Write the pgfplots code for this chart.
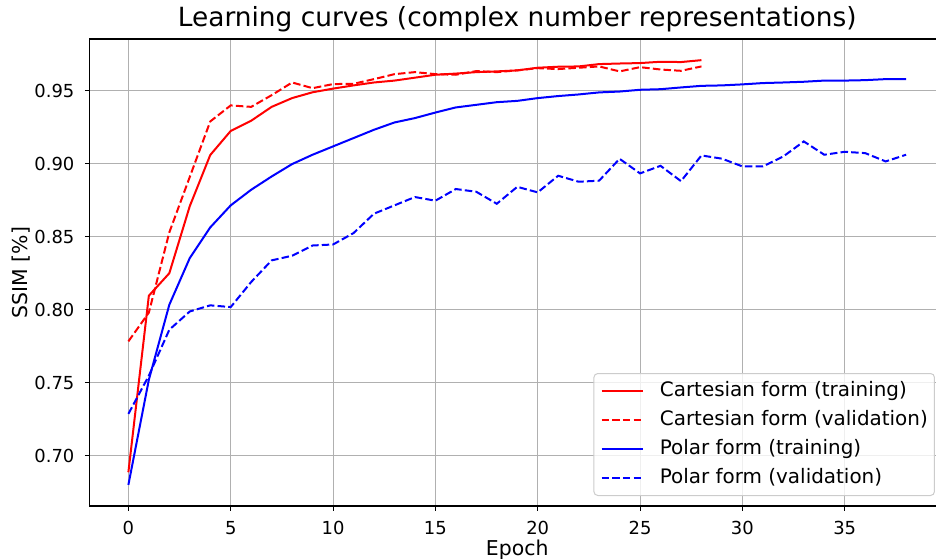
\documentclass[border=0pt]{standalone}
\usepackage{pgfplots}
\pgfplotsset{compat=1.18}
\usepackage{fontspec}
\setmainfont{DejaVu Sans}
\begin{document}
\begin{tikzpicture}
\path[use as bounding box] (-89.5bp,-53bp) rectangle (846.5bp,506bp);
\begin{axis}[
  at={(0,0)}, anchor=south west,
  scale only axis, width=855.5bp, height=467bp,
  xmin=-1.9, xmax=39.9, ymin=0.6655, ymax=0.9855,
  xtick={0,5,10,15,20,25,30,35},
  ytick={0.70,0.75,0.80,0.85,0.90,0.95},
  grid=major,
  major grid style={color=black!31, line width=1.1bp},
  axis line style={line width=1.1bp, black},
  tick style={line width=1.1bp, black},
  tick align=outside, major tick length=4.7bp, tick pos=left,
  /pgf/number format/assume math mode=true,
  ticklabel style={font=\fontsize{18}{18}\selectfont},
  xticklabel style={anchor=north, inner sep=0pt, yshift=-10.7bp},
  yticklabel style={anchor=east, inner sep=0pt, xshift=-10.2bp,
    /pgf/number format/fixed, /pgf/number format/fixed zerofill, /pgf/number format/precision=2},
  scaled y ticks=false,
  xlabel={Epoch}, ylabel={SSIM [\%]},
  label style={font=\fontsize{20.5}{24}\selectfont},
  xlabel style={at={(axis description cs:0.5,-0.1055)}, anchor=base},
  ylabel style={at={(axis description cs:-0.0719,0.5)}, anchor=base},
  title={Learning curves (complex number representations)},
  title style={at={(axis description cs:0.5,1.01435)}, anchor=base, font=\fontsize{26.5}{30}\selectfont},
  legend cell align=left,
  legend image code/.code={\draw[#1] (0bp,0bp) -- (41.6bp,0bp);},
  legend style={at={(axis description cs:0.9883,0.0214)}, anchor=south east,
    font=\fontsize{20}{24}\selectfont, fill=white, fill opacity=0.8, text opacity=1,
    draw=black!20, line width=1bp, rounded corners=4bp,
    inner xsep=6.7bp, inner ysep=8bp, row sep=10bp,
    nodes={inner sep=0pt, text height=15bp, text depth=4bp},
    /tikz/every odd column/.append style={column sep=15.7bp}},
  every axis plot/.append style={line width=2bp},
]
\addplot[red, solid] coordinates {
(0,0.6886) (1,0.8096) (2,0.825) (3,0.871) (4,0.906) (5,0.9225) (6,0.9295) (7,0.939)
(8,0.945) (9,0.949) (10,0.9515) (11,0.9537) (12,0.9557) (13,0.957) (14,0.959)
(15,0.961) (16,0.9618) (17,0.9628) (18,0.9633) (19,0.964) (20,0.9658) (21,0.9665)
(22,0.9667) (23,0.9683) (24,0.9687) (25,0.969) (26,0.9699) (27,0.9697) (28,0.971)};
\addlegendentry{Cartesian form (training)}
\addplot[red, dash pattern=on 7.5bp off 3.2bp] coordinates {
(0,0.7783) (1,0.798) (2,0.853) (3,0.891) (4,0.929) (5,0.940) (6,0.939) (7,0.947)
(8,0.9557) (9,0.9518) (10,0.9546) (11,0.9548) (12,0.958) (13,0.9614) (14,0.9628)
(15,0.9614) (16,0.961) (17,0.9635) (18,0.9628) (19,0.964) (20,0.9655) (21,0.9649)
(22,0.9658) (23,0.9667) (24,0.9633) (25,0.9662) (26,0.9646) (27,0.9637) (28,0.9667)};
\addlegendentry{Cartesian form (validation)}
\addplot[blue, solid] coordinates {
(0,0.680) (1,0.752) (2,0.8034) (3,0.8354) (4,0.8564) (5,0.8715) (6,0.8822) (7,0.8913)
(8,0.8998) (9,0.9062) (10,0.9119) (11,0.9176) (12,0.9233) (13,0.9283) (14,0.9313)
(15,0.9351) (16,0.9386) (17,0.9404) (18,0.9422) (19,0.9431) (20,0.945) (21,0.9464)
(22,0.9475) (23,0.9489) (24,0.9495) (25,0.9507) (26,0.9511) (27,0.9523) (28,0.9534)
(29,0.9537) (30,0.9544) (31,0.9553) (32,0.9557) (33,0.9562) (34,0.957) (35,0.957)
(36,0.9573) (37,0.958) (38,0.958)};
\addlegendentry{Polar form (training)}
\addplot[blue, dash pattern=on 7.5bp off 3.2bp] coordinates {
(0,0.7286) (1,0.7548) (2,0.7863) (3,0.7988) (4,0.803) (5,0.8018) (6,0.819) (7,0.8338)
(8,0.837) (9,0.844) (10,0.8447) (11,0.8525) (12,0.8658) (13,0.8715) (14,0.8772)
(15,0.8747) (16,0.8827) (17,0.8808) (18,0.8726) (19,0.8842) (20,0.8804) (21,0.8918)
(22,0.8877) (23,0.8884) (24,0.9034) (25,0.8934) (26,0.8986) (27,0.8881) (28,0.9057)
(29,0.9035) (30,0.8982) (31,0.8982) (32,0.905) (33,0.9153) (34,0.9062) (35,0.9082)
(36,0.9073) (37,0.9016) (38,0.9062)};
\addlegendentry{Polar form (validation)}
\end{axis}
\end{tikzpicture}
\end{document}
